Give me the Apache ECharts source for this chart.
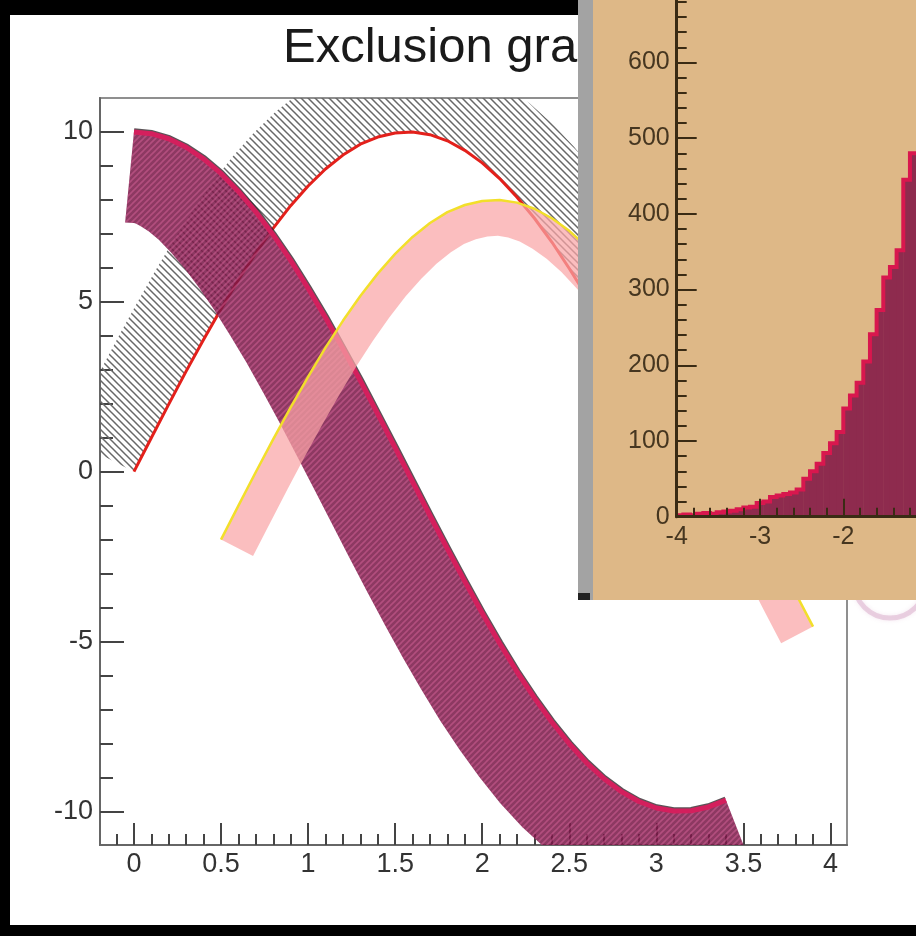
<!DOCTYPE html>
<html>
<head>
<meta charset="utf-8">
<script src="https://cdn.jsdelivr.net/npm/echarts@6/dist/echarts.min.js"></script>
<style>
html,body{margin:0;padding:0;background:#000;width:916px;height:936px;overflow:hidden;}
#panel{position:absolute;left:10px;top:15px;width:906px;height:910px;background:#fff;}
#c{position:absolute;left:0;top:0;width:916px;height:936px;}
</style>
</head>
<body>
<div id="panel"></div>
<div id="c"></div>
<script>
// ---------- data ----------
const xValues = [0,0.1,0.2,0.3,0.4,0.5,0.6,0.7,0.8,0.9,1.0,1.1,1.2,1.3,1.4,1.5,1.6,1.7,1.8,1.9,2.0,2.1,2.2,2.3,2.4,2.5,2.6,2.7,2.8,2.9,3.0,3.1,3.2,3.3,3.4];
const sinValues = [0,1.00,1.99,2.96,3.89,4.79,5.65,6.44,7.17,7.83,8.41,8.91,9.32,9.64,9.85,9.97,10.00,9.92,9.74,9.46,9.09,8.63,8.08,7.46,6.76,5.98,5.16,4.27,3.35,2.39,1.41,0.42,-0.58,-1.58,-2.56];
const cosValues = [10,9.95,9.80,9.55,9.21,8.78,8.25,7.65,6.97,6.22,5.40,4.54,3.62,2.68,1.70,0.71,-0.29,-1.29,-2.27,-3.23,-4.16,-5.05,-5.89,-6.66,-7.37,-8.01,-8.57,-9.04,-9.42,-9.71,-9.90,-9.99,-9.98,-9.87,-9.67];
const shiftedX = [0.5,0.6,0.7,0.8,0.9,1.0,1.1,1.2,1.3,1.4,1.5,1.6,1.7,1.8,1.9,2.0,2.1,2.2,2.3,2.4,2.5,2.6,2.7,2.8,2.9,3.0,3.1,3.2,3.3,3.4,3.5,3.6,3.7,3.8,3.9];
const shiftedValues = [-2,-1.00,-0.01,0.96,1.89,2.79,3.65,4.44,5.17,5.83,6.41,6.91,7.32,7.64,7.85,7.97,8.00,7.92,7.74,7.46,7.09,6.63,6.08,5.46,4.76,3.98,3.16,2.27,1.35,0.39,-0.59,-1.58,-2.58,-3.58,-4.56];

const xMajorTicks = [0,0.5,1,1.5,2,2.5,3,3.5,4];
const xMinorTicks = [-0.1,0.1,0.2,0.3,0.4,0.6,0.7,0.8,0.9,1.1,1.2,1.3,1.4,1.6,1.7,1.8,1.9,2.1,2.2,2.3,2.4,2.6,2.7,2.8,2.9,3.1,3.2,3.3,3.4,3.6,3.7,3.8,3.9];
const yMajorTicks = [-10,-5,0,5,10];
const yMinorTicks = [-9,-8,-7,-6,-4,-3,-2,-1,1,2,3,4,6,7,8,9];

const histEdges = [-4,-3.92,-3.84,-3.76,-3.68,-3.6,-3.52,-3.44,-3.36,-3.28,-3.2,-3.12,-3.04,-2.96,-2.88,-2.8,-2.72,-2.64,-2.56,-2.48,-2.4,-2.32,-2.24,-2.16,-2.08,-2,-1.92,-1.84,-1.76,-1.68,-1.6,-1.52,-1.44,-1.36,-1.28,-1.2,-1.12];
const histCounts = [2,3,2,4,5,4,6,7,8,10,12,13,18,20,26,28,30,32,36,50,60,70,84,97,112,143,160,177,205,241,273,316,330,352,445,480];

// ---------- helpers ----------
function hatch(size, color, lw, dir) {
  const c = document.createElement('canvas');
  c.width = size; c.height = size;
  const g = c.getContext('2d');
  g.strokeStyle = color; g.lineWidth = lw; g.lineCap = 'square';
  g.beginPath();
  for (let k = -1; k <= 1; k++) {
    if (dir === 'back') { g.moveTo(k * size, 0); g.lineTo(k * size + size, size); }
    else { g.moveTo(k * size, size); g.lineTo(k * size + size, 0); }
  }
  g.stroke();
  return { image: c, repeat: 'repeat' };
}

function offsetPts(pts, w, side) {
  const out = [];
  const n = pts.length;
  for (let i = 0; i < n; i++) {
    const a = pts[Math.max(0, i - 1)], b = pts[Math.min(n - 1, i + 1)];
    const dx = b[0] - a[0], dy = b[1] - a[1];
    const L = Math.hypot(dx, dy) || 1;
    out.push([pts[i][0] + (-dy / L) * side * w, pts[i][1] + (dx / L) * side * w]);
  }
  return out;
}

function band(name, xs, ys, o) {
  return {
    type: 'custom', name: name, xAxisIndex: 0, yAxisIndex: 0, z: o.z, clip: true, silent: true,
    data: [[xs[0], ys[0]]],
    renderItem: function (params, api) {
      const pts = xs.map((x, i) => api.coord([x, ys[i]]));
      const off = offsetPts(pts, o.width, o.side);
      const poly = pts.concat(off.slice().reverse());
      const ch = [];
      if (o.fill) ch.push({ type: 'polygon', shape: { points: poly }, style: { fill: o.fill } });
      if (o.hatch) ch.push({ type: 'polygon', shape: { points: poly }, style: { fill: o.hatch } });
      if (o.shadow) ch.push({ type: 'polyline', shape: { points: offsetPts(pts, 2.5, -o.side) }, style: { stroke: o.shadow, lineWidth: 2.5, fill: 'none' } });
      ch.push({ type: 'polyline', shape: { points: pts }, style: { stroke: o.line, lineWidth: o.lineWidth, fill: 'none', lineJoin: 'round' } });
      return { type: 'group', children: ch };
    }
  };
}

const FONT = 'Liberation Sans, Arial, sans-serif';
const chart = echarts.init(document.getElementById('c'), null, { renderer: 'canvas', width: 916, height: 936 });

const mainTickStyle = { color: '#444', width: 2 };
const insetInk = '#3a2b14';

chart.setOption({
  animation: false,
  backgroundColor: 'transparent',
  title: {
    text: 'Exclusion graphs', left: 283, top: 24, padding: 0, z: 6,
    textStyle: { fontFamily: FONT, fontSize: 49, fontWeight: 'normal', color: '#1a1a1a' }
  },
  grid: [
    { left: 100, top: 98, width: 747, height: 747, show: true, borderColor: '#8f8f8f', borderWidth: 2, backgroundColor: 'transparent', containLabel: false, outerBoundsMode: 'none' },
    { left: 676.7, top: 516.7 - 800 * 0.757, width: 666.4, height: 800 * 0.757, show: false, z: 110, containLabel: false, outerBoundsMode: 'none' }
  ],
  xAxis: [
    { gridIndex: 0, type: 'value', min: -0.195, max: 4.095, position: 'bottom',
      axisLine: { show: true, onZero: false, lineStyle: { color: '#666', width: 2 } },
      axisTick: { show: true, inside: true, length: 22, customValues: xMajorTicks, lineStyle: mainTickStyle },
      axisLabel: { show: true, customValues: xMajorTicks, fontFamily: FONT, fontSize: 27, color: '#333', margin: 6 },
      splitLine: { show: false } },
    { gridIndex: 0, type: 'value', min: -0.195, max: 4.095, position: 'bottom',
      axisLine: { show: false, onZero: false }, axisLabel: { show: false }, splitLine: { show: false },
      axisTick: { show: true, inside: true, length: 11, customValues: xMinorTicks, lineStyle: mainTickStyle } },
    { gridIndex: 1, type: 'value', min: -4, max: 4, interval: 1, z: 120, position: 'bottom',
      axisLine: { show: true, onZero: false, lineStyle: { color: insetInk, width: 3 } },
      axisTick: { show: true, inside: true, length: 18, lineStyle: { color: insetInk, width: 2 } },
      minorTick: { show: true, splitNumber: 5, length: 9, lineStyle: { color: insetInk, width: 2 } },
      axisLabel: { show: true, fontFamily: FONT, fontSize: 25, color: '#463620', margin: 8 },
      splitLine: { show: false } }
  ],
  yAxis: [
    { gridIndex: 0, type: 'value', min: -10.99, max: 11.0, position: 'left',
      axisLine: { show: true, onZero: false, lineStyle: { color: '#666', width: 2 } },
      axisTick: { show: true, inside: true, length: 24, customValues: yMajorTicks, lineStyle: mainTickStyle },
      axisLabel: { show: true, customValues: yMajorTicks, fontFamily: FONT, fontSize: 27, color: '#333', margin: 7, padding: [16, 0, 0, 0] },
      splitLine: { show: false } },
    { gridIndex: 0, type: 'value', min: -10.99, max: 11.0, position: 'left',
      axisLine: { show: false, onZero: false }, axisLabel: { show: false }, splitLine: { show: false },
      axisTick: { show: true, inside: true, length: 13, customValues: yMinorTicks, lineStyle: mainTickStyle } },
    { gridIndex: 1, type: 'value', min: 0, max: 800, interval: 100, z: 120, position: 'left',
      axisLine: { show: true, onZero: false, lineStyle: { color: insetInk, width: 3 } },
      axisTick: { show: true, inside: true, length: 20, lineStyle: { color: insetInk, width: 2 } },
      minorTick: { show: true, splitNumber: 5, length: 10, lineStyle: { color: insetInk, width: 2 } },
      axisLabel: { show: true, fontFamily: FONT, fontSize: 25, color: '#463620', margin: 7, padding: [14, 0, 0, 0] },
      splitLine: { show: false } }
  ],
  graphic: {
    elements: [
      { type: 'circle', silent: true, z: 90, shape: { cx: 890, cy: 582, r: 36 },
        style: { fill: 'none', stroke: 'rgba(225,188,212,0.65)', lineWidth: 5, shadowBlur: 4, shadowColor: 'rgba(225,188,212,0.5)' } },
      { type: 'rect', silent: true, z: 100, shape: { x: 578, y: 0, width: 15, height: 600 }, style: { fill: '#a3a3a3' } },
      { type: 'rect', silent: true, z: 100, shape: { x: 593, y: 0, width: 323, height: 600 }, style: { fill: '#deb887' } },
      { type: 'rect', silent: true, z: 101, shape: { x: 578, y: 593, width: 12, height: 7 }, style: { fill: '#222' } }
    ]
  },
  series: [
    band('sin', xValues, sinValues, { z: 2, width: 76, side: -1, hatch: hatch(7, '#686868', 1.5, 'back'), line: '#e3201b', lineWidth: 3 }),
    band('cos', xValues, cosValues, { z: 3, width: 91, side: 1, fill: 'rgba(122,24,72,0.86)', hatch: hatch(6, 'rgba(225,105,160,0.45)', 1.6, 'fwd'), shadow: 'rgba(50,40,45,0.8)', line: '#d41f5d', lineWidth: 5 }),
    band('sin-2', shiftedX, shiftedValues, { z: 4, width: 36, side: 1, fill: 'rgba(250,165,166,0.72)', line: '#f2df2a', lineWidth: 2.5 }),
    {
      type: 'custom', name: 'hpx', xAxisIndex: 2, yAxisIndex: 2, z: 110, clip: true, silent: true,
      data: [[histEdges[0], 0]],
      renderItem: function (params, api) {
        const ch = [];
        const outline = [api.coord([histEdges[0], 0])];
        for (let k = 0; k < histCounts.length; k++) {
          const p0 = api.coord([histEdges[k], histCounts[k]]);
          const p1 = api.coord([histEdges[k + 1], 0]);
          ch.push({ type: 'rect', shape: { x: p0[0], y: p0[1], width: p1[0] - p0[0] + 0.5, height: p1[1] - p0[1] }, style: { fill: '#8e2b4e' } });
          outline.push(p0);
          outline.push(api.coord([histEdges[k + 1], histCounts[k]]));
        }
        ch.push({ type: 'polyline', shape: { points: outline }, style: { stroke: '#d8174e', lineWidth: 4, fill: 'none' } });
        return { type: 'group', children: ch };
      }
    }
  ]
});
</script>
</body>
</html>
